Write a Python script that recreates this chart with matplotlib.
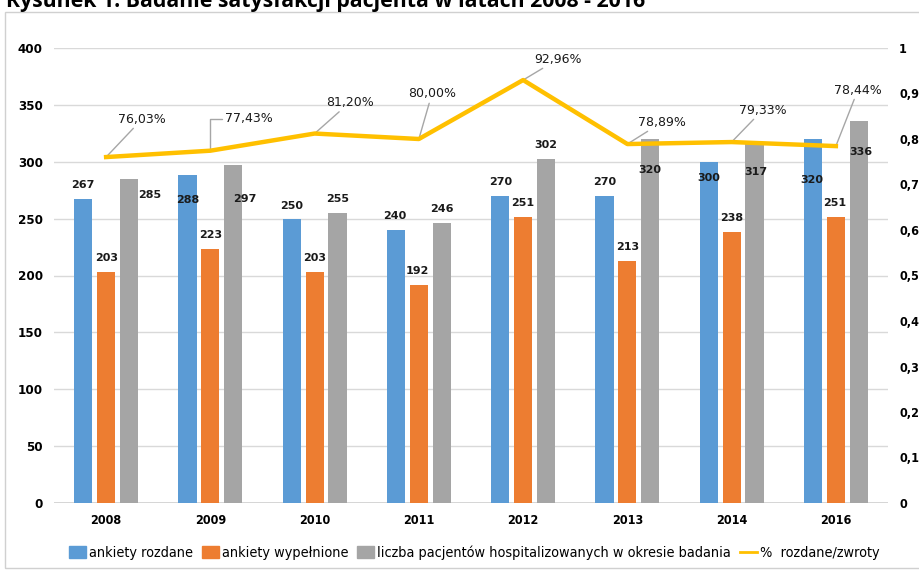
import numpy as np
import matplotlib.pyplot as plt
from matplotlib.patches import Rectangle
from matplotlib.lines import Line2D
from matplotlib.ticker import FuncFormatter, MultipleLocator

years = ['2008', '2009', '2010', '2011', '2012', '2013', '2014', '2016']
rozdane = [267, 288, 250, 240, 270, 270, 300, 320]
wypelnione = [203, 223, 203, 192, 251, 213, 238, 251]
pacjenci = [285, 297, 255, 246, 302, 320, 317, 336]
procent = [0.7603, 0.7743, 0.8120, 0.8000, 0.9296, 0.7889, 0.7933, 0.7844]

C_BLUE = '#5B9BD5'
C_ORANGE = '#ED7D31'
C_GRAY = '#A5A5A5'
C_YELLOW = '#FFC000'

# label offsets (pixels) from top of each bar
off_rozdane = [(0, 14), (0, -25), (0, 13), (-1, 14), (0, 14), (0, 14), (0, -16), (-1, -41)]
off_wypeln = [(1, 14), (0, 14), (0, 14), (-1, 14), (0, 14), (0, 14), (0, 14), (-1, 14)]
off_pacj = [(21, -16), (12, -34), (0, 14), (0, 14), (0, 14), (0, -31), (1, -30), (2, -31)]
# offsets of the percentage labels from their line point
off_proc = [(36, 38), (38, 32), (35, 31), (13, 45), (35, 21), (35, 22), (31, 32), (22, 56)]

W, H = 920, 572
fig = plt.figure(figsize=(W / 100, H / 100), dpi=100)
fig.patches.append(Rectangle((5 / W, 1 - 568 / H), 1, (568 - 12) / H, transform=fig.transFigure,
                             fill=False, edgecolor='#D0D0D0', linewidth=1.0))
fig.text(6 / W, 1 - 7 / H, 'Rysunek 1. Badanie satysfakcji pacjenta w latach 2008 - 2016',
         family='Open Sans', weight='bold', fontsize=15.3, ha='left', va='baseline')

ax = fig.add_axes([54 / W, 1 - 503 / H, 834 / W, 455 / H])
x = np.arange(len(years))
bw = 0.175
step = 0.22
b1 = ax.bar(x - step, rozdane, bw, color=C_BLUE, zorder=2)
b2 = ax.bar(x, wypelnione, bw, color=C_ORANGE, zorder=2)
b3 = ax.bar(x + step, pacjenci, bw, color=C_GRAY, zorder=2)

ax.set_xlim(-0.5, len(years) - 0.5)
ax.set_ylim(0, 400)
ax.yaxis.set_major_locator(MultipleLocator(50))
ax.grid(axis='y', color='#D9D9D9', linewidth=1.0, zorder=0)
ax.set_axisbelow(True)
for s in ax.spines.values():
    s.set_visible(False)
ax.axhline(0, color='#D0D0D0', linewidth=1.2, zorder=1)
ax.tick_params(length=0)
ax.set_xticks(x)
ax.set_xticklabels(years)
ax.tick_params(axis='x', pad=8)
ax.tick_params(axis='y', pad=8)
tick_font = dict(family='DejaVu Sans', stretch='condensed', weight='bold', size=9)
for lab in ax.get_xticklabels() + ax.get_yticklabels():
    lab.set(**tick_font)
for lab in ax.get_yticklabels():
    lab.set_fontsize(9.5)

for bars, vals, offs in ((b1, rozdane, off_rozdane), (b2, wypelnione, off_wypeln), (b3, pacjenci, off_pacj)):
    for rect, v, (dx, dy) in zip(bars, vals, offs):
        ax.annotate(str(v), (rect.get_x() + rect.get_width() / 2, v), xytext=(dx, dy),
                    textcoords='offset pixels', ha='center', va='center',
                    fontsize=8, weight='bold', color='#1A1A1A', zorder=5)

ax2 = ax.twinx()
ax2.set_ylim(0, 1)
ax2.yaxis.set_major_locator(MultipleLocator(0.1))
ax2.yaxis.set_major_formatter(FuncFormatter(lambda v, p: ('%g' % round(v, 1)).replace('.', ',')))
for s in ax2.spines.values():
    s.set_visible(False)
ax2.tick_params(length=0, pad=8)
for lab in ax2.get_yticklabels():
    lab.set(**tick_font)
ax2.plot(x, procent, color=C_YELLOW, linewidth=3.2, zorder=4, solid_joinstyle='round')

for i, (v, (dx, dy)) in enumerate(zip(procent, off_proc)):
    txt = ('%.2f%%' % (v * 100)).replace('.', ',')
    cs = 'angle,angleA=0,angleB=90,rad=0' if i == 1 else 'arc3'
    ax2.annotate(txt, (i, v), xytext=(dx, dy), textcoords='offset pixels',
                 ha='center', va='center', fontsize=9, color='#1A1A1A',
                 arrowprops=dict(arrowstyle='-', color='#A6A6A6', lw=1,
                                 shrinkA=0, shrinkB=0, connectionstyle=cs))

handles = [Rectangle((0, 0), 1, 1, color=C_BLUE), Rectangle((0, 0), 1, 1, color=C_ORANGE),
           Rectangle((0, 0), 1, 1, color=C_GRAY), Line2D([], [], color=C_YELLOW, linewidth=2)]
names = ['ankiety rozdane', 'ankiety wypełnione',
         'liczba pacjentów hospitalizowanych w okresie badania', '%  rozdane/zwroty']
fig.legend(handles, names, loc='center', bbox_to_anchor=(474 / W, 1 - 553 / H), ncol=4,
           frameon=False, handlelength=1.2, handleheight=0.9, handletextpad=0.2,
           columnspacing=0.6, prop=dict(family='DejaVu Sans', stretch='condensed', size=10.4))

fig.savefig('out.png', dpi=100)
